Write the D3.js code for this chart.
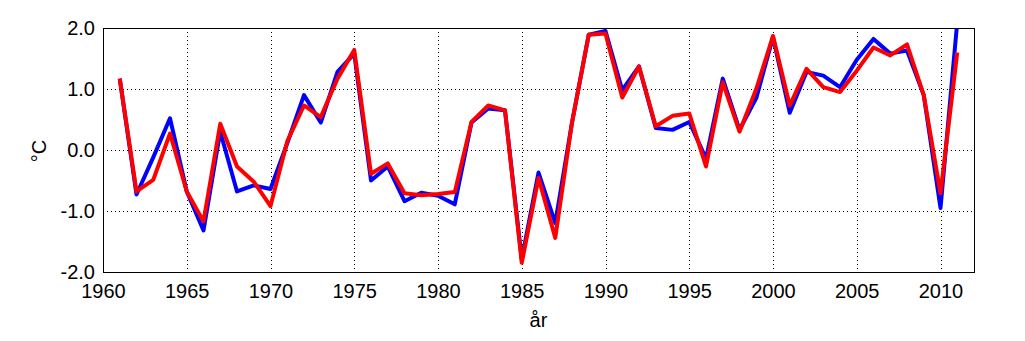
<!DOCTYPE html>
<html>
<head>
<meta charset="utf-8">
<script src="https://cdn.jsdelivr.net/npm/d3@7"></script>
<style>
  body { margin: 0; background: #fff; }
</style>
</head>
<body>
<div id="chart"></div>
<script>
// Data
const years = d3.range(1961, 2012)
const blueValues = [
  1.17, -0.73, -0.12, 0.52, -0.68, -1.32, 0.30, -0.68, -0.58, -0.64,
  0.11, 0.90, 0.45, 1.28, 1.58, -0.50, -0.27, -0.84, -0.70, -0.75,
  -0.89, 0.45, 0.68, 0.65, -1.79, -0.37, -1.20, 0.45, 1.89, 1.95,
  0.98, 1.37, 0.36, 0.33, 0.46, -0.14, 1.17, 0.33, 0.85, 1.85,
  0.61, 1.28, 1.22, 1.03, 1.48, 1.82, 1.58, 1.63, 0.90, -0.95,
  2.10
]
const redValues = [
  1.17, -0.68, -0.49, 0.27, -0.68, -1.17, 0.43, -0.27, -0.52, -0.92,
  0.14, 0.73, 0.54, 1.17, 1.64, -0.39, -0.22, -0.71, -0.74, -0.72,
  -0.69, 0.46, 0.73, 0.65, -1.85, -0.46, -1.44, 0.45, 1.89, 1.91,
  0.86, 1.37, 0.39, 0.56, 0.60, -0.27, 1.11, 0.30, 1.00, 1.87,
  0.73, 1.33, 1.03, 0.95, 1.30, 1.68, 1.55, 1.73, 0.90, -0.71,
  1.60
]
const xTicks = [1960, 1965, 1970, 1975, 1980, 1985, 1990, 1995, 2000, 2005, 2010]
const yTicks = [-2, -1, 0, 1, 2]

const fontFamily = '"Liberation Sans", Arial, Helvetica, sans-serif'

// Dimensions
const dimensions = {
  width: 1025,
  height: 341,
  left: 103,
  right: 974,
  top: 28,
  bottom: 272
}

const svg = d3.select('#chart')
  .append('svg')
  .attr('width', dimensions.width)
  .attr('height', dimensions.height)

// Scales
const xScale = d3.scaleLinear()
  .domain([1960, 2012])
  .range([dimensions.left, dimensions.right])

const yScale = d3.scaleLinear()
  .domain([-2, 2])
  .range([dimensions.bottom, dimensions.top])

// Grid
svg.append('g')
  .selectAll('line')
  .data(xTicks.slice(1))
  .join('line')
  .attr('x1', d => Math.round(xScale(d)) + 0.5)
  .attr('x2', d => Math.round(xScale(d)) + 0.5)
  .attr('y1', dimensions.top)
  .attr('y2', dimensions.bottom)
  .attr('stroke', '#000')
  .attr('stroke-dasharray', '1,3')

svg.append('g')
  .selectAll('line')
  .data(yTicks.slice(1, -1))
  .join('line')
  .attr('x1', dimensions.left)
  .attr('x2', dimensions.right)
  .attr('y1', d => Math.round(yScale(d)) + 0.5)
  .attr('y2', d => Math.round(yScale(d)) + 0.5)
  .attr('stroke', '#000')
  .attr('stroke-dasharray', '1,3')

// Lines
svg.append('clipPath')
  .attr('id', 'clip')
  .append('rect')
  .attr('x', dimensions.left)
  .attr('y', dimensions.top)
  .attr('width', dimensions.right - dimensions.left)
  .attr('height', dimensions.bottom - dimensions.top)

const lineGenerator = (values) => d3.line()
  .x((d, i) => xScale(years[i]))
  .y(d => yScale(d))(values)

const lines = svg.append('g').attr('clip-path', 'url(#clip)')

lines.append('path')
  .attr('d', lineGenerator(blueValues))
  .attr('fill', 'none')
  .attr('stroke', '#0000ff')
  .attr('stroke-width', 4)
  .attr('stroke-linejoin', 'round')

lines.append('path')
  .attr('d', lineGenerator(redValues))
  .attr('fill', 'none')
  .attr('stroke', '#ff0000')
  .attr('stroke-width', 4)
  .attr('stroke-linejoin', 'round')

// Frame
svg.append('rect')
  .attr('x', dimensions.left + 0.5)
  .attr('y', dimensions.top + 0.5)
  .attr('width', dimensions.right - dimensions.left)
  .attr('height', dimensions.bottom - dimensions.top)
  .attr('fill', 'none')
  .attr('stroke', '#000')

// Axes
const xAxis = d3.axisBottom(xScale)
  .tickValues(xTicks)
  .tickSize(0)
  .tickPadding(12)
  .tickFormat(d3.format('d'))

svg.append('g')
  .attr('transform', `translate(0, ${dimensions.bottom})`)
  .call(xAxis)
  .attr('font-family', fontFamily)
  .attr('font-size', 20)
  .call(g => g.select('.domain').remove())
  .selectAll('text')
  .attr('fill', '#000')

const yAxis = d3.axisLeft(yScale)
  .tickValues(yTicks)
  .tickSize(0)
  .tickPadding(8)
  .tickFormat(d => d3.format('.1f')(d).replace('−', '-'))

svg.append('g')
  .attr('transform', `translate(${dimensions.left}, 0)`)
  .call(yAxis)
  .attr('font-family', fontFamily)
  .attr('font-size', 20)
  .call(g => g.select('.domain').remove())
  .selectAll('text')
  .attr('fill', '#000')

// Labels
svg.append('text')
  .attr('x', (dimensions.left + dimensions.right) / 2)
  .attr('y', 327)
  .attr('text-anchor', 'middle')
  .attr('font-family', fontFamily)
  .attr('font-size', 20)
  .text('år')

svg.append('text')
  .attr('transform', 'translate(46, 151) rotate(-90)')
  .attr('text-anchor', 'middle')
  .attr('font-family', fontFamily)
  .attr('font-size', 20)
  .text('°C')
</script>
</body>
</html>
